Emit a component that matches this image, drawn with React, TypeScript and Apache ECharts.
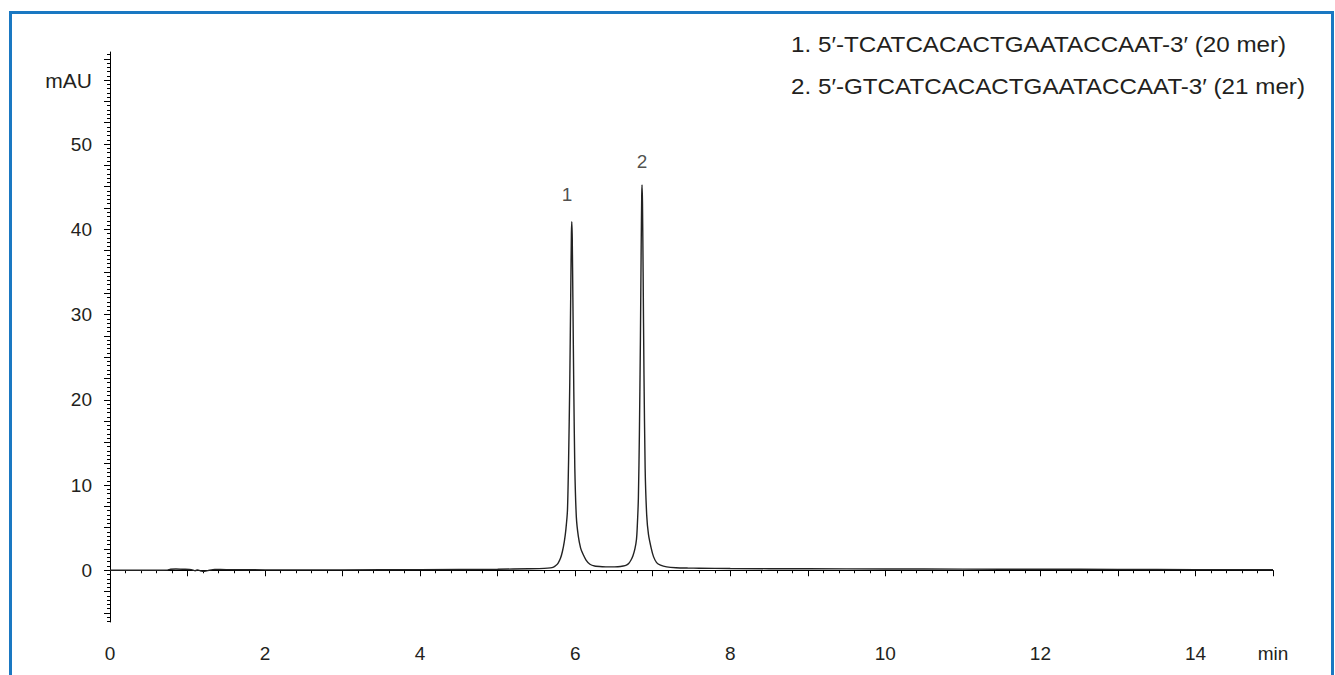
import React, { useEffect, useRef } from "react";
import * as echarts from "echarts";

// retention time (min)
const times: number[] = [
  0, 0.3, 0.6, 0.74, 0.78, 0.85, 0.95, 1.05, 1.1, 1.13, 1.18, 1.22, 1.28, 1.35, 1.5, 2, 3, 4, 5, 5.4,
  5.6, 5.68, 5.72, 5.75, 5.78, 5.81, 5.835, 5.86, 5.88, 5.9, 5.915, 5.93, 5.943, 5.951, 5.956,
  5.962, 5.97, 5.982, 5.995, 6.015, 6.04, 6.07, 6.1, 6.14, 6.19, 6.25, 6.35, 6.45, 6.55, 6.62,
  6.66, 6.69, 6.72, 6.745, 6.77, 6.79, 6.8, 6.815, 6.828, 6.841, 6.851, 6.858, 6.862, 6.868,
  6.876, 6.887, 6.902, 6.922, 6.945, 6.98, 7.01, 7.05, 7.1, 7.18, 7.3, 7.45, 7.6, 8, 9, 10, 11,
  12, 13, 14, 15,
];
// absorbance (mAU)
const absorbance: number[] = [
  0, 0, 0, 0.02, 0.12, 0.15, 0.12, 0.08, -0.05, 0.05, -0.1, -0.12, 0, 0.1, 0.08, 0.05, 0.05, 0.08, 0.12, 0.18,
  0.22, 0.28, 0.38, 0.55, 0.85, 1.4, 2.2, 3.4, 4.8, 7.0, 13, 22, 33, 39.5, 40.9,
  39, 32, 21, 12, 6.2, 4.0, 2.6, 1.9, 1.2, 0.7, 0.5, 0.42, 0.4, 0.42, 0.5,
  0.6, 0.8, 1.2, 1.7, 2.5, 3.6, 5.0, 8.5, 16, 27, 38, 44, 45.2, 43,
  35, 23, 12, 6.5, 4.2, 2.6, 1.6, 0.9, 0.6, 0.4, 0.3, 0.26, 0.24, 0.2, 0.17, 0.15, 0.13,
  0.12, 0.1, 0.08, 0.06,
];

// peak labels
const peakLabelTimes: number[] = [5.895, 6.862];
const peakLabelValues: number[] = [44.1, 48.0];
const peakLabelTexts: string[] = ["1", "2"];

const yLabelValues: number[] = [0, 10, 20, 30, 40, 50, 57.5];
const legendNumbers: string[] = ["1.", "2."];
const legendTexts: string[] = [
  "5\u2032-TCATCACACTGAATACCAAT-3\u2032 (20 mer)",
  "5\u2032-GTCATCACACTGAATACCAAT-3\u2032 (21 mer)",
];

const Y_MIN = -6.07;
const Y_MAX = 60.8;

export default function App() {
  const ref = useRef<HTMLDivElement>(null);
  useEffect(() => {
    if (!ref.current) return;
    const chart = echarts.init(ref.current, null, { renderer: "svg" });
    const font = "'Liberation Sans', Arial, sans-serif";
    const textColor = "#231f20";

    const yMid: number[] = [];
    for (let v = -5; v <= 60; v += 2.5) yMid.push(v);
    const yMinor: number[] = [];
    for (let v = -6; v <= 60.5; v += 0.5) yMinor.push(Math.round(v * 10) / 10);

    const lineData = times.map((t, i) => [t, absorbance[i]]);
    const labelData = peakLabelTimes.map((t, i) => ({
      value: [t, peakLabelValues[i]],
      name: peakLabelTexts[i],
    }));

    const graphics: any[] = [
      {
        type: "rect",
        shape: { x: 10.5, y: 12.5, width: 1322, height: 720 },
        style: { fill: "none", stroke: "#1a78c2", lineWidth: 3 },
        silent: true,
      },
    ];
    legendNumbers.forEach((n, i) => {
      const y = 44 + i * 42;
      graphics.push({
        type: "text",
        x: 791,
        y,
        scaleX: 1.1,
        style: { text: n, font: `22px ${font}`, fill: textColor, verticalAlign: "middle" },
      });
      graphics.push({
        type: "text",
        x: 818,
        y,
        scaleX: 1.1,
        style: { text: legendTexts[i], font: `22px ${font}`, fill: textColor, verticalAlign: "middle" },
      });
    });

    chart.setOption({
      animation: false,
      backgroundColor: "#ffffff",
      grid: { left: 110, right: 62, top: 52, bottom: 53, containLabel: false },
      xAxis: {
        type: "value",
        min: 0,
        max: 15,
        interval: 1,
        axisLine: { show: true, lineStyle: { color: "#000", width: 1 } },
        axisTick: { show: true, length: 6, lineStyle: { color: "#000" } },
        minorTick: { show: true, splitNumber: 5, length: 3, lineStyle: { color: "#000" } },
        splitLine: { show: false },
        axisLabel: {
          color: textColor,
          fontFamily: font,
          fontSize: 19,
          margin: 22,
          showMinLabel: true,
          showMaxLabel: true,
          formatter: (v: number) => (v === 15 ? "min" : v % 2 === 0 ? String(v) : ""),
        },
      },
      yAxis: [
        {
          type: "value",
          min: Y_MIN,
          max: Y_MAX,
          axisLine: { show: true, lineStyle: { color: "#000", width: 1 } },
          axisTick: { show: true, length: 6, customValues: yMid, lineStyle: { color: "#000" } },
          splitLine: { show: false },
          axisLabel: {
            color: textColor,
            fontFamily: font,
            fontSize: 19,
            margin: 18,
            customValues: yLabelValues,
            formatter: (v: number) => (v === 57.5 ? "{u|mAU}" : String(v)),
            rich: { u: { fontSize: 21, fontFamily: font, color: textColor } },
          },
        },
        {
          type: "value",
          min: Y_MIN,
          max: Y_MAX,
          position: "left",
          axisLine: { show: false },
          axisTick: { show: true, length: 3, customValues: yMinor, lineStyle: { color: "#000" } },
          splitLine: { show: false },
          axisLabel: { show: false },
        },
      ],
      series: [
        {
          type: "line",
          data: lineData,
          showSymbol: false,
          symbol: "none",
          lineStyle: { color: "#222", width: 1.4 },
          smooth: 0.2,
          z: 3,
        },
        {
          type: "scatter",
          data: labelData,
          symbolSize: 0,
          label: {
            show: true,
            position: "inside",
            formatter: (p: any) => p.name,
            color: textColor,
            fontFamily: font,
            fontSize: 19,
          },
          z: 4,
        },
      ],
      graphic: graphics,
    });
    return () => chart.dispose();
  }, []);
  return (
    <div
      ref={ref}
      style={{ position: "absolute", left: 0, top: 0, width: 1335, height: 675 }}
    />
  );
}
